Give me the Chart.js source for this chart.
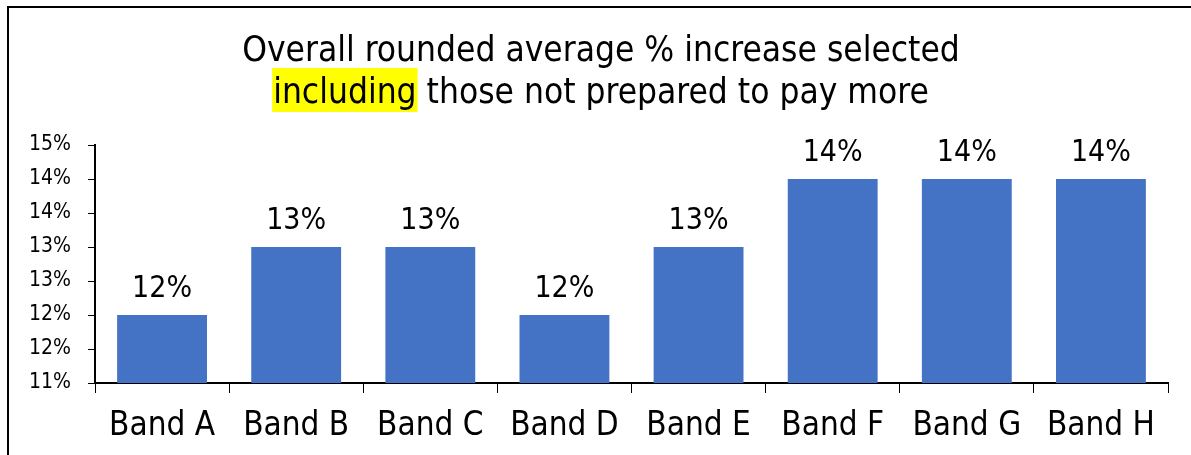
<!DOCTYPE html>
<html>
<head>
<meta charset="utf-8">
<script src="https://cdn.jsdelivr.net/npm/chart.js@4/dist/chart.umd.min.js"></script>
<style>
    html, body { margin: 0; padding: 0; background: #ffffff; }
    #wrap { width: 1191px; height: 455px; position: relative; }
</style>
</head>
<body>
<div id="wrap"><canvas id="bandChart"></canvas></div>
<script>
// data
const bands = ['Band A', 'Band B', 'Band C', 'Band D', 'Band E', 'Band F', 'Band G', 'Band H'];
const avgIncrease = [12, 13, 13, 12, 13, 14, 14, 14];
const titleLine1 = 'Overall rounded average % increase selected';
const titleLine2Marked = 'including';
const titleLine2Rest = ' those not prepared to pay more';

const FONT = '"DejaVu Sans Condensed", "DejaVu Sans", sans-serif';

// Frame, title with highlighted word, and value labels
const decorPlugin = {
    id: 'decor',
    beforeDraw(chart) {
        const c = chart.ctx;
        c.save();
        c.fillStyle = '#ffffff';
        c.fillRect(0, 0, chart.width, chart.height);
        c.strokeStyle = '#000000';
        c.lineWidth = 2;
        c.strokeRect(8, 7, chart.width + 50, chart.height + 50);
        c.restore();
    },
    afterDraw(chart) {
        const c = chart.ctx;
        const cx = 601;
        c.save();
        c.font = '35px ' + FONT;
        c.fillStyle = '#000000';
        c.textBaseline = 'alphabetic';
        c.textAlign = 'center';
        c.fillText(titleLine1, cx, 61);

        // second line: highlighted word + rest
        const wMark = c.measureText(titleLine2Marked).width;
        const wRest = c.measureText(titleLine2Rest).width;
        const x0 = cx - (wMark + wRest) / 2;
        c.fillStyle = '#ffff00';
        c.fillRect(x0 - 1, 68, wMark + 2, 44);
        c.fillStyle = '#000000';
        c.textAlign = 'left';
        c.fillText(titleLine2Marked, x0, 103);
        c.fillText(titleLine2Rest, x0 + wMark, 103);
        c.restore();
    },
    afterDatasetsDraw(chart) {
        const c = chart.ctx;
        const meta = chart.getDatasetMeta(0);
        c.save();
        c.font = '30px ' + FONT;
        c.fillStyle = '#000000';
        c.textAlign = 'center';
        c.textBaseline = 'alphabetic';
        meta.data.forEach(function(bar, i) {
            c.fillText(Math.round(avgIncrease[i]) + '%', bar.x, bar.y - 18);
        });
        c.restore();
    }
};

new Chart(document.getElementById('bandChart'), {
    type: 'bar',
    data: {
        labels: bands,
        datasets: [{
            data: avgIncrease,
            backgroundColor: '#4472c4',
            borderWidth: 0,
            categoryPercentage: 1.0,
            barPercentage: 0.67
        }]
    },
    options: {
        responsive: true,
        maintainAspectRatio: false,
        animation: false,
        layout: {
            padding: { top: 145, right: 23, bottom: 0, left: 0 }
        },
        plugins: {
            legend: { display: false },
            title: { display: false },
            tooltip: { enabled: false }
        },
        scales: {
            y: {
                min: 11,
                max: 14.5,
                afterFit: function(scale) { scale.width = 95; },
                border: { color: '#000000', width: 2 },
                grid: {
                    drawOnChartArea: false,
                    drawTicks: true,
                    tickLength: 7,
                    color: '#000000',
                    lineWidth: 1
                },
                ticks: {
                    stepSize: 0.5,
                    padding: 17,
                    color: '#000000',
                    font: { family: FONT, size: 21 },
                    callback: function(value) {
                        return Math.round(value) + '%';
                    }
                }
            },
            x: {
                afterFit: function(scale) { scale.height = 72; },
                border: { color: '#000000', width: 2 },
                grid: {
                    offset: true,
                    drawOnChartArea: false,
                    drawTicks: true,
                    tickLength: 10,
                    color: '#000000',
                    lineWidth: 1
                },
                ticks: {
                    padding: 14,
                    color: '#000000',
                    font: { family: FONT, size: 33 }
                }
            }
        }
    },
    plugins: [decorPlugin]
});
</script>
</body>
</html>
